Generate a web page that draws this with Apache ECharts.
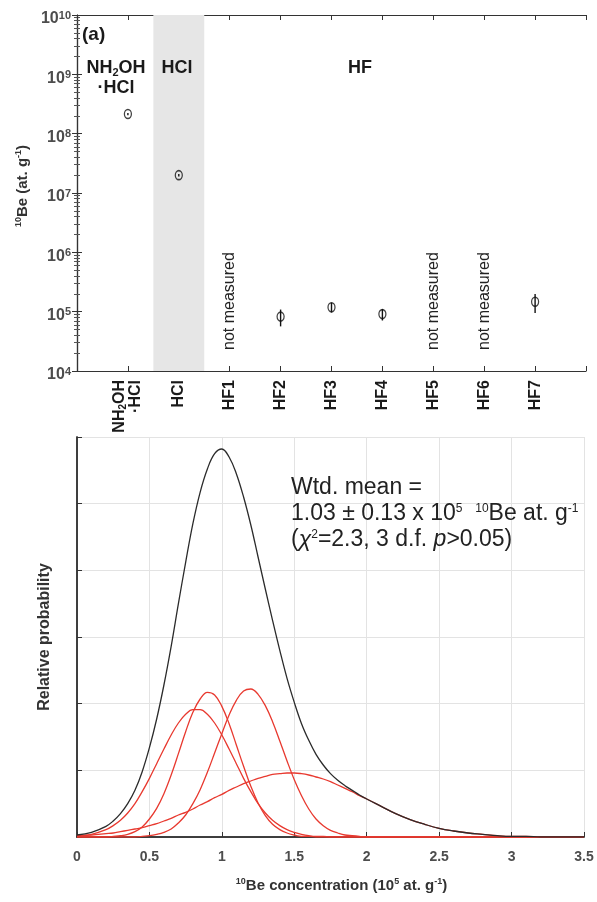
<!DOCTYPE html>
<html lang="en">
<head>
<meta charset="UTF-8">
<title>10Be leaching steps and HF probability</title>
<script src="https://cdn.jsdelivr.net/npm/echarts@6/dist/echarts.min.js"></script>
<style>
  html, body { margin: 0; padding: 0; background: #fff; }
  #main { width: 597px; height: 902px; }
</style>
</head>
<body>
<div id="main"></div>
<script>
    // top panel: leaching steps, placed at positions 1..9
    const stepNames = ['NH2OH·HCl', 'HCl', 'HF1', 'HF2', 'HF3', 'HF4', 'HF5', 'HF6', 'HF7'];
    const stepValues = [2.14e8, 2.0e7, null, 8.25e4, 1.19e5, 9.1e4, null, null, 1.465e5];
    const stepErrors = [1.0e7, 1.0e6, null, 2.6e4, 2.25e4, 2.0e4, null, null, 5.2e4];

    // bottom panel: probability curves (10^5 at/g on x)
    const concX = [0, 0.1, 0.2, 0.25, 0.3, 0.35, 0.4, 0.45, 0.5, 0.55, 0.6, 0.65, 0.7, 0.75, 0.8, 0.85, 0.9, 0.95,
        1.0, 1.05, 1.1, 1.15, 1.2, 1.25, 1.3, 1.35, 1.4, 1.45, 1.5, 1.55, 1.6, 1.65, 1.7, 1.75, 1.8, 1.85, 1.9, 1.95,
        2.0, 2.1, 2.2, 2.3, 2.4, 2.5, 2.6, 2.7, 2.8, 2.9, 3.0, 3.1, 3.2, 3.3, 3.4, 3.5];
    const probHF2 = [0.01, 0.04, 0.11, 0.17, 0.25, 0.36, 0.50, 0.68, 0.88, 1.10, 1.32, 1.53, 1.71, 1.84, 1.91, 1.91, 1.84, 1.71,
        1.53, 1.32, 1.10, 0.88, 0.68, 0.50, 0.36, 0.25, 0.17, 0.11, 0.07, 0.04, 0.02, 0.01, 0.01, 0, 0, 0, 0, 0,
        0, 0, 0, 0, 0, 0, 0, 0, 0, 0, 0, 0, 0, 0, 0, 0];
    const probHF4 = [0, 0, 0, 0.01, 0.02, 0.04, 0.08, 0.15, 0.27, 0.43, 0.65, 0.93, 1.25, 1.58, 1.87, 2.07, 2.17, 2.13,
        1.96, 1.70, 1.38, 1.06, 0.76, 0.51, 0.32, 0.19, 0.11, 0.06, 0.03, 0.01, 0.01, 0, 0, 0, 0, 0, 0, 0,
        0, 0, 0, 0, 0, 0, 0, 0, 0, 0, 0, 0, 0, 0, 0, 0];
    const probHF3 = [0, 0, 0, 0, 0, 0, 0, 0.01, 0.02, 0.04, 0.07, 0.12, 0.21, 0.33, 0.50, 0.71, 0.97, 1.26,
        1.55, 1.83, 2.05, 2.19, 2.22, 2.14, 1.97, 1.73, 1.44, 1.14, 0.86, 0.62, 0.42, 0.27, 0.17, 0.10, 0.06, 0.03, 0.02, 0.01,
        0, 0, 0, 0, 0, 0, 0, 0, 0, 0, 0, 0, 0, 0, 0, 0];
    const probHF7 = [0.02, 0.03, 0.05, 0.06, 0.08, 0.10, 0.12, 0.14, 0.17, 0.20, 0.24, 0.28, 0.33, 0.37, 0.42, 0.48, 0.53, 0.59,
        0.64, 0.70, 0.75, 0.80, 0.84, 0.88, 0.91, 0.94, 0.95, 0.96, 0.96, 0.95, 0.93, 0.90, 0.87, 0.83, 0.78, 0.73, 0.68, 0.62,
        0.57, 0.46, 0.35, 0.26, 0.19, 0.13, 0.09, 0.06, 0.04, 0.02, 0.01, 0.01, 0, 0, 0, 0];
    const probSum = [0.03, 0.07, 0.16, 0.24, 0.35, 0.50, 0.70, 0.98, 1.34, 1.77, 2.28, 2.86, 3.50, 4.12, 4.70, 5.17, 5.52, 5.75,
        5.82, 5.70, 5.45, 5.10, 4.68, 4.20, 3.72, 3.25, 2.80, 2.38, 2.02, 1.70, 1.45, 1.24, 1.08, 0.95, 0.85, 0.77, 0.70, 0.63,
        0.57, 0.46, 0.35, 0.26, 0.19, 0.13, 0.09, 0.06, 0.04, 0.02, 0.01, 0.01, 0, 0, 0, 0];

    const FONT = '"Liberation Sans", Arial, sans-serif';
    const AXIS = '#333';
    const LABEL = '#4d4d4d';
    const RED = '#e8392f';

    const chart = echarts.init(document.getElementById('main'));

    const pairs = ys => concX.map((x, i) => [x, ys[i]]);

    const measured = [];
    const missing = [];
    stepValues.forEach((v, i) => {
        if (v === null) missing.push([i + 1, 1e4]);
        else measured.push([i + 1, v, v - stepErrors[i], v + stepErrors[i]]);
    });

    const sup = { fontSize: 11, fontWeight: 'bold', color: LABEL, fontFamily: FONT, verticalAlign: 'top', lineHeight: 11 };
    const nameRich = {
        b: { fontSize: 15, fontWeight: 'bold', color: '#333', fontFamily: FONT, lineHeight: 17 },
        s: Object.assign({}, sup, { fontSize: 9, lineHeight: 9, color: '#333' })
    };

    function probLine(name, ys, color) {
        return {
            name: name, type: 'line', xAxisIndex: 2, yAxisIndex: 2,
            data: pairs(ys), showSymbol: false, smooth: 0.4, silent: true,
            lineStyle: { color: color, width: 1.3 }, z: color === RED ? 3 : 4
        };
    }

    const option = {
        animation: false,
        backgroundColor: '#fff',
        textStyle: { fontFamily: FONT },
        grid: [
            { left: 77, right: 11, top: 15, bottom: 531 },
            { left: 77, right: 13, top: 437, bottom: 65 }
        ],
        xAxis: [
            {
                gridIndex: 0, type: 'value', min: 0, max: 10, interval: 1, position: 'bottom',
                axisLine: { lineStyle: { color: AXIS, width: 1.2 } },
                axisTick: { inside: true, length: 5, lineStyle: { color: AXIS } },
                splitLine: { show: false },
                axisLabel: {
                    rotate: 90, margin: 9,
                    formatter: function (v) {
                        const name = stepNames[v - 1];
                        if (!name) return '';
                        if (v === 1) return '{c|NH}{s|2}{c|OH}\n{c|·HCl}';
                        return '{c|' + name + '}';
                    },
                    rich: {
                        c: { fontSize: 16, fontWeight: 'bold', color: '#1a1a1a', fontFamily: FONT, lineHeight: 16 },
                        s: { fontSize: 10, fontWeight: 'bold', color: '#1a1a1a', fontFamily: FONT, verticalAlign: 'bottom', lineHeight: 10 }
                    }
                }
            },
            {
                gridIndex: 0, type: 'value', min: 0, max: 10, interval: 1, position: 'top',
                axisLine: { lineStyle: { color: AXIS, width: 1.2 } },
                axisTick: { inside: true, length: 5, lineStyle: { color: AXIS } },
                axisLabel: { show: false }, splitLine: { show: false }
            },
            {
                gridIndex: 1, type: 'value', min: 0, max: 3.5, interval: 0.5, position: 'bottom',
                name: '{s|10}{b|Be concentration (10}{s|5}{b| at. g}{s|-1}{b|)}',
                nameLocation: 'middle', nameGap: 40,
                nameTextStyle: { rich: nameRich, padding: [0, 0, 0, 22] },
                axisLine: { lineStyle: { color: AXIS, width: 1.5 } },
                axisTick: { inside: true, length: 5, lineStyle: { color: AXIS } },
                axisLabel: { margin: 13, fontSize: 14, fontWeight: 'bold', color: LABEL, fontFamily: FONT },
                splitLine: { show: true, lineStyle: { color: '#e3e3e3', width: 1 } }
            },
            {
                gridIndex: 1, type: 'value', min: 0, max: 3.5, interval: 0.5, position: 'top',
                axisLine: { lineStyle: { color: AXIS, width: 1.5 } },
                axisTick: { show: false }, axisLabel: { show: false }, splitLine: { show: false }
            }
        ],
        yAxis: [
            {
                gridIndex: 0, type: 'log', logBase: 10, min: 1e4, max: 1e10, splitNumber: 6, position: 'left',
                name: '{s|10}{b|Be (at. g}{s|-1}{b|)}', nameLocation: 'middle', nameGap: 36,
                nameTextStyle: { rich: nameRich, padding: [0, 0, 0, 14] },
                axisLine: { lineStyle: { color: AXIS, width: 1.2 } },
                axisTick: { inside: true, length: 5, lineStyle: { color: AXIS } },
                minorTick: { show: true, splitNumber: 9, length: 3, lineStyle: { color: '#555' } },
                splitLine: { show: false },
                axisLabel: {
                    margin: 6, padding: [8, 0, 0, 0],
                    formatter: v => '{b|10}{s|' + Math.round(Math.log10(v)) + '}',
                    rich: {
                        b: { fontSize: 16, fontWeight: 'bold', color: LABEL, fontFamily: FONT, lineHeight: 18 },
                        s: sup
                    }
                }
            },
            {
                gridIndex: 0, type: 'log', logBase: 10, min: 1e4, max: 1e10, splitNumber: 6, position: 'right',
                axisLine: { lineStyle: { color: AXIS, width: 1.2 } },
                axisTick: { inside: true, length: 5, lineStyle: { color: AXIS } },
                minorTick: { show: true, splitNumber: 9, length: 3, lineStyle: { color: '#555' } },
                axisLabel: { show: false }, splitLine: { show: false }
            },
            {
                gridIndex: 1, type: 'value', min: 0, max: 6, interval: 1, position: 'left',
                name: 'Relative probability', nameLocation: 'middle', nameGap: 24,
                nameTextStyle: { fontSize: 16, fontWeight: 'bold', color: '#333', fontFamily: FONT },
                axisLine: { lineStyle: { color: AXIS, width: 1.5 } },
                axisTick: { inside: true, length: 5, lineStyle: { color: AXIS } },
                axisLabel: { show: false },
                splitLine: { show: true, lineStyle: { color: '#e3e3e3', width: 1 } }
            },
            {
                gridIndex: 1, type: 'value', min: 0, max: 6, interval: 1, position: 'right',
                axisLine: { lineStyle: { color: AXIS, width: 1.5 } },
                axisTick: { show: false }, axisLabel: { show: false }, splitLine: { show: false }
            }
        ],
        graphic: [
            { type: 'text', z: 100, left: 82, top: 25, style: { text: '(a)', font: 'bold 19px ' + FONT, fill: '#1a1a1a' } },
            {
                type: 'text', z: 100, x: 116, y: 78, style: {
                    text: '{c|NH}{s|2}{c|OH}\n{c|·HCl}', align: 'center', verticalAlign: 'middle',
                    rich: {
                        c: { font: 'bold 18px ' + FONT, fill: '#1a1a1a', lineHeight: 20 },
                        s: { font: 'bold 11px ' + FONT, fill: '#1a1a1a', verticalAlign: 'bottom', lineHeight: 11 }
                    }
                }
            },
            { type: 'text', z: 100, x: 177, y: 68, style: { text: 'HCl', font: 'bold 18px ' + FONT, fill: '#1a1a1a', align: 'center', verticalAlign: 'middle' } },
            { type: 'text', z: 100, x: 360, y: 68, style: { text: 'HF', font: 'bold 18px ' + FONT, fill: '#1a1a1a', align: 'center', verticalAlign: 'middle' } },
            {
                type: 'text', z: 100, x: 291, y: 475, style: {
                    text: 'Wtd. mean =\n1.03 ± 0.13 x 10{u|5}  {u|10}Be at. g{u|-1}\n({i|χ}{u|2}=2.3, 3 d.f. {i|p}>0.05)',
                    font: '23px ' + FONT, fill: '#222', lineHeight: 26,
                    rich: {
                        u: { font: '12px ' + FONT, fill: '#222', verticalAlign: 'top', lineHeight: 12, padding: [2, 0, 0, 0] },
                        i: { font: 'italic 23px ' + FONT, fill: '#222' }
                    }
                }
            }
        ],
        series: [
            {
                // grey band behind the HCl step
                type: 'line', xAxisIndex: 0, yAxisIndex: 0, data: [], silent: true,
                markArea: {
                    silent: true, itemStyle: { color: '#e6e6e6' },
                    data: [[{ xAxis: 1.5, yAxis: 1e4 }, { xAxis: 2.5, yAxis: 1e10 }]]
                },
                z: 0
            },
            {
                type: 'custom', xAxisIndex: 0, yAxisIndex: 0, silent: true,
                data: measured, encode: { x: 0, y: [2, 3] },
                renderItem: function (params, api) {
                    const lo = api.coord([api.value(0), api.value(2)]);
                    const hi = api.coord([api.value(0), api.value(3)]);
                    return {
                        type: 'line',
                        shape: { x1: lo[0], y1: lo[1], x2: hi[0], y2: hi[1] },
                        style: { stroke: '#111', lineWidth: 1.4 }
                    };
                },
                z: 3
            },
            {
                type: 'scatter', xAxisIndex: 0, yAxisIndex: 0, silent: true,
                data: measured.map(d => [d[0], d[1]]),
                symbol: 'circle', symbolSize: [7, 9],
                itemStyle: { color: 'rgba(0,0,0,0)', borderColor: '#111', borderWidth: 1.4 },
                z: 4
            },
            {
                type: 'custom', xAxisIndex: 0, yAxisIndex: 0, silent: true,
                data: missing,
                renderItem: function (params, api) {
                    const p = api.coord([api.value(0), api.value(1)]);
                    return {
                        type: 'text', x: p[0], y: p[1] - 21, rotation: Math.PI / 2,
                        style: { text: 'not measured', font: '16px ' + FONT, fill: '#222', align: 'left', verticalAlign: 'middle' }
                    };
                },
                z: 3
            },
            probLine('HF2', probHF2, RED),
            probLine('HF4', probHF4, RED),
            probLine('HF3', probHF3, RED),
            probLine('HF7', probHF7, RED),
            probLine('sum', probSum, '#2b2b2b')
        ]
    };

    chart.setOption(option);
</script>
</body>
</html>
